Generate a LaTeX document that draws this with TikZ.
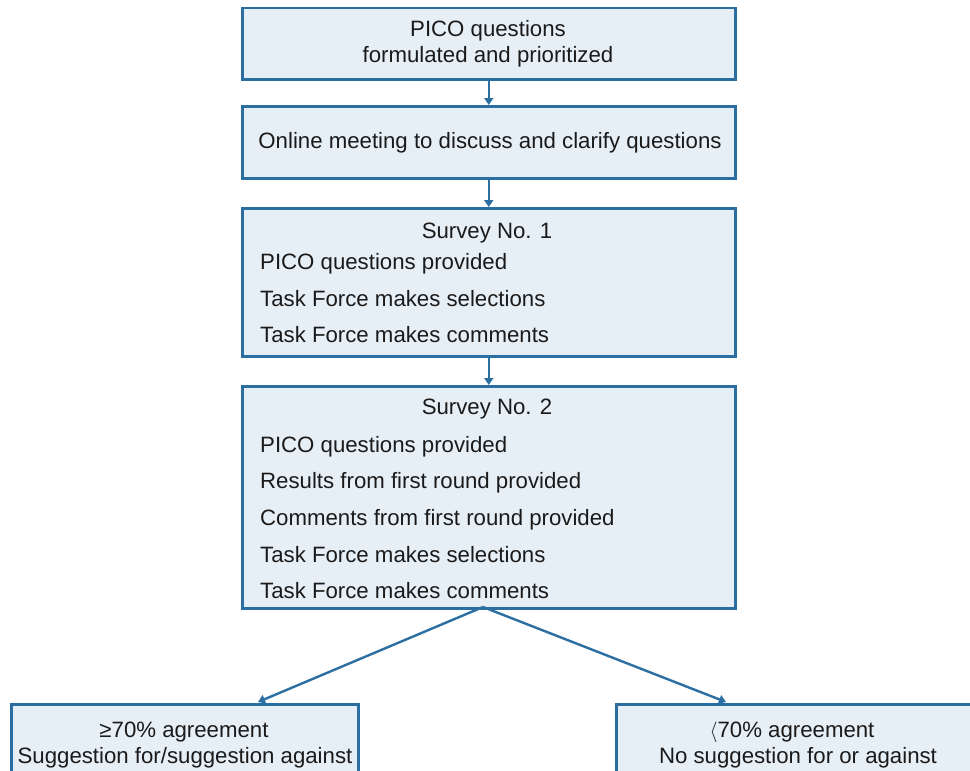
\documentclass[tikz,border=0pt]{standalone}
\usepackage{fontspec}
\setmainfont{Liberation Sans}
\usetikzlibrary{arrows.meta}
\definecolor{boxblue}{HTML}{2A6EA2}
\definecolor{boxfill}{HTML}{E6EFF6}
\definecolor{txt}{HTML}{1A1A1A}
\begin{document}
\begin{tikzpicture}[x=1bp,y=-1bp,
  box/.style={draw=boxblue,fill=boxfill,line width=2.5bp,inner sep=0pt,anchor=north west},
  lbl/.style={font=\fontsize{22.3}{26}\selectfont,text=txt,inner sep=0pt},
  conn/.style={draw=boxblue,line width=2.4bp,-{Triangle[length=7bp,width=9bp]}}]
\useasboundingbox (0,0) rectangle (970,771);
\clip (0,0) rectangle (970,771);
% boxes
\node[box,minimum width=493bp,minimum height=71bp] (b1) at (241,7) {};
\node[box,minimum width=493bp,minimum height=72bp] (b2) at (241,105) {};
\node[box,minimum width=493bp,minimum height=148bp] (b3) at (241,207) {};
\node[box,minimum width=493bp,minimum height=222bp] (b4) at (241,385) {};
\node[box,minimum width=347bp,minimum height=80bp] (bl) at (10,703) {};
\node[box,minimum width=370bp,minimum height=80bp] (br) at (615,703) {};
% texts
\node[lbl,anchor=base] (t1a) at (488,37) {PICO questions};
\node[lbl,anchor=base] (t1b) at (488,63) {formulated and prioritized};
\node[lbl,anchor=base] (t2) at (490,148) {Online meeting to discuss and clarify questions};
\node[lbl,anchor=base] (t3t) at (487,238) {Survey No. 1};
\node[lbl,anchor=base west] (t3a) at (260,269) {PICO questions provided};
\node[lbl,anchor=base west] (t3b) at (260,306) {Task Force makes selections};
\node[lbl,anchor=base west] (t3c) at (260,342) {Task Force makes comments};
\node[lbl,anchor=base] (t4t) at (487,414) {Survey No. 2};
\node[lbl,anchor=base west] (t4a) at (260,452) {PICO questions provided};
\node[lbl,anchor=base west] (t4b) at (260,488) {Results from first round provided};
\node[lbl,anchor=base west] (t4c) at (260,525) {Comments from first round provided};
\node[lbl,anchor=base west] (t4d) at (260,562) {Task Force makes selections};
\node[lbl,anchor=base west] (t4e) at (260,598) {Task Force makes comments};
\node[lbl,anchor=base] (tla) at (184,737) {≥70\% agreement};
\node[lbl,anchor=base] (tlb) at (185,763) {Suggestion for/suggestion against};
\node[lbl,anchor=base] (tra) at (792,737) {$\langle$70\% agreement};
\node[lbl,anchor=base] (trb) at (798,763) {No suggestion for or against};
% connectors
\coordinate (la) at (258,702);
\coordinate (ra) at (726,702);
\coordinate (sp) at (483,607);
\draw[conn] (b1.south) -- (b2.north);
\draw[conn] (b2.south) -- (b3.north);
\draw[conn] (b3.south) -- (b4.north);
\draw[conn] (sp) -- (la);
\draw[conn] (sp) -- (ra);
\end{tikzpicture}
\end{document}
